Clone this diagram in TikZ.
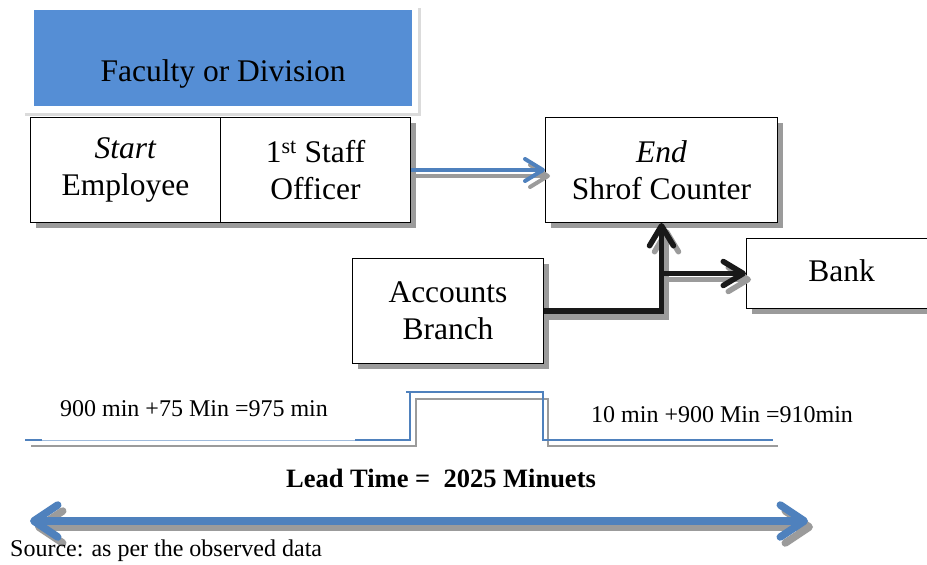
\documentclass[tikz,border=0pt]{standalone}
\usepackage{fontspec}
\setmainfont{Liberation Serif}
\usetikzlibrary{arrows.meta,shadows}
\definecolor{boxblue}{RGB}{85,142,213}
\definecolor{lineblue}{RGB}{79,129,189}
\definecolor{shade}{RGB}{155,155,155}
\begin{document}
\begin{tikzpicture}[x=1pt,y=-1pt,
  box/.style={draw=black, line width=1pt, fill=white, align=center, inner sep=0pt,
    font=\fontsize{31.5}{37}\selectfont,
    drop shadow={shadow xshift=5pt, shadow yshift=-5pt, fill=shade, opacity=1}},
  bigtext/.style={font=\fontsize{31.5}{37}\selectfont},
  smalltext/.style={font=\fontsize{24}{28}\selectfont, inner sep=0pt},
  bluearrow/.style={draw=lineblue, line width=4pt, -{Straight Barb[length=18pt,width=22pt,round]}},
  blackarrow/.style={draw=black!90, line width=5.5pt, -{Straight Barb[length=20pt,width=24pt,round]}},
  shadowline/.style={draw=shade, transform canvas={shift={(5pt,-6pt)}}},
  pulse/.style={draw=lineblue, line width=1.5pt},
  pulseshadow/.style={draw=shade, line width=1.5pt},
  leadarrow/.style={draw=lineblue, line width=7.5pt, {Straight Barb[length=24pt,width=32pt,round]}-{Straight Barb[length=24pt,width=32pt,round]}}
]
\useasboundingbox (0,0) rectangle (927,565);
\clip (0,0) rectangle (927,565);

% faint frame around the faculty box
\fill[black!14] (25,8) rectangle (421,116);
\fill[white] (25,3) rectangle (418,113);
\node[fill=boxblue, anchor=north west, minimum width=378pt, minimum height=96pt, inner sep=0pt] (fac) at (34,10) {};
\node[bigtext] (factext) at ([yshift=-16pt]fac.center) {Faculty or Division};

% boxes
\node[box, anchor=north west, minimum width=190pt, minimum height=105pt] (emp) at (30,117) {\textit{Start}\\Employee};
\node[box, anchor=north west, minimum width=190pt, minimum height=105pt] (staff) at (220,117) {1\textsuperscript{st} Staff\\Officer};
\node[box, anchor=north west, minimum width=232pt, minimum height=105pt] (end) at (545,117) {\textit{End}\\Shrof Counter};
\node[box, anchor=north west, minimum width=190pt, minimum height=70pt] (bank) at (746,238) {\raisebox{5pt}{Bank}};
\node[box, anchor=north west, minimum width=191pt, minimum height=105pt] (acc) at (352,258) {Accounts\\Branch};

% connectors (shadows first)
\draw[bluearrow, shadowline] (staff.east) -- (end.west);
\draw[bluearrow] (staff.east) -- (end.west);
\draw[blackarrow, shadowline] (acc.east) -| (end.south);
\draw[blackarrow, shadowline] (end.south |- bank.west) -- (bank.west);
\draw[blackarrow] (acc.east) -| (end.south);
\draw[blackarrow] (end.south |- bank.west) -- (bank.west);

% timeline
\draw[pulseshadow] (31,446) -- (416,446) -- (416,399) -- (548,399) -- (548,446) -- (778,446);
\draw[draw=lineblue!55, line width=1pt] (25,440) -- (410,440);
\draw[pulse] (25,440) -- (42,440);
\draw[pulse] (355,440) -- (410,440) -- (410,392) -- (543,392) -- (543,440) -- (773,440);
\draw[pulse] (406,392) -- (410,392);

\node[smalltext, anchor=base] (t1) at (194,416) {900 min +75 Min =975 min};
\node[smalltext, anchor=base west] (t2) at (591,422) {10 min +900 Min =910min};
\node[smalltext, font=\fontsize{26.5}{30}\selectfont\bfseries, anchor=base] (lead) at (441,487) {Lead Time =\ \ 2025 Minuets};

% lead time double arrow
\coordinate (la) at (30,521);
\coordinate (lb) at (808,521);
\draw[leadarrow, shadowline] (la) -- (lb);
\draw[leadarrow] (la) -- (lb);

\node[smalltext, anchor=base west] (src) at (10,556) {Source: as per the observed data};
\end{tikzpicture}
\end{document}
